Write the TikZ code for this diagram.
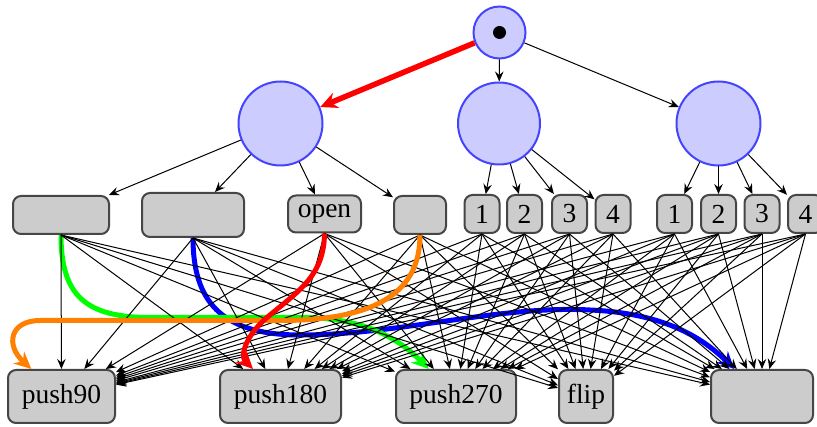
\documentclass[tikz,border=0pt]{standalone}
\usepackage{fontspec}
\setmainfont{Liberation Serif}
\newfontfamily\labelfont{Liberation Serif}
\usetikzlibrary{arrows.meta}
\definecolor{boxfill}{HTML}{CCCCCC}
\definecolor{boxline}{HTML}{464646}
\definecolor{statefill}{HTML}{CCCCFF}
\definecolor{stateline}{HTML}{4444FF}
\definecolor{hotgreen}{HTML}{00FF00}
\definecolor{hotblue}{HTML}{0000FF}
\definecolor{hotred}{HTML}{FF0000}
\definecolor{hotorange}{HTML}{FF8000}
\begin{document}
\begin{tikzpicture}[x=1pt,y=-1pt,
  font=\labelfont\fontsize{27.5}{30}\selectfont,
  state/.style={circle, draw=stateline, fill=statefill, line width=2pt,
    minimum size=#1, inner sep=0pt},
  box/.style 2 args={rounded corners=8pt, draw=boxline, fill=boxfill,
    line width=2pt, minimum width=#1, minimum height=#2, inner sep=0pt},
  link/.style={black, line width=1pt,
    -{Stealth[length=10pt,width=8.5pt,inset=3.5pt]}},
  hot/.style={line width=5pt,
    -{Stealth[length=17pt,width=16pt,inset=5.5pt]}},
]
\useasboundingbox (0,0) rectangle (817,427);

% states
\node[state=52pt] (root) at (499.5,32.5) {};
\fill (root) circle (6.5pt);
\node[state=84pt] (lc) at (280.5,123.5) {};
\node[state=82pt] (mc) at (499,123.5) {};
\node[state=84pt] (rc) at (718.5,123.5) {};

% middle row
\node[box={96pt}{38pt}] (A) at (61,215) {};
\node[box={102pt}{44pt}] (B) at (193,215) {};
\node[box={73pt}{37pt}] (open) at (324.5,214) {open};
\node[box={52pt}{38pt}] (D) at (420,215) {};
\foreach \n/\x in {1/482,2/524.5,3/569.5,4/613}
  \node[box={35pt}{38pt}] (L\n) at (\x,214) {\n};
\foreach \n/\x in {1/674.5,2/718.5,3/762,4/805.5}
  \node[box={35pt}{38pt}] (R\n) at (\x,214) {\n};

% bottom row
\node[box={107pt}{53pt}] (p90) at (61.5,396.5) {push90\hspace{9pt}};
\node[box={121pt}{53pt}] (p180) at (280.5,396.5) {push180\hspace{10pt}};
\node[box={120pt}{53pt}] (p270) at (456,396.5) {push270\hspace{10pt}};
\node[box={54pt}{53pt}] (flip) at (586,396.5) {flip};
\node[box={102pt}{53pt}] (last) at (762,396.5) {};

% tree edges
\draw[link] (root) -- (mc);
\draw[link] (root) -- (rc);
\foreach \t in {A,B,open,D} \draw[link] (lc) -- (\t);
\foreach \t in {L1,L2,L3,L4} \draw[link] (mc) -- (\t);
\foreach \t in {R1,R2,R3,R4} \draw[link] (rc) -- (\t);

% highlighted paths (under the mesh)
\draw[hot, hotblue] (B.south) .. controls (193,300) and (220,335) .. (300,335)
  .. controls (400,335) and (500,305) .. (590,310)
  .. controls (660,313) and (700,335) .. (last);
\draw[hot, hotgreen] (A.south) .. controls (61,295) and (85,317.5) .. (150,317.5)
  -- (300,317.5) .. controls (360,317.5) and (395,335) .. (p270);

% every choice to every action
\foreach \s in {A,B,open,D,L1,L2,L3,L4,R1,R2,R3,R4}
  \foreach \t in {p90,p180,p270,flip,last}
    \draw[link] (\s.south) -- (\t);

% highlighted paths (over the mesh)
\draw[hot, hotorange] (D.south) .. controls (420,290) and (380,320.5) .. (280,320.5)
  -- (40,320.5) .. controls (10,320.5) and (5,345) .. (p90);
\draw[hot, hotred] (open.south) .. controls (324,275) and (300,290) .. (270,315)
  .. controls (245,335) and (240,356) .. (p180);
\draw[hot, hotred, line width=5.5pt] (root) -- (lc);
\end{tikzpicture}
\end{document}
